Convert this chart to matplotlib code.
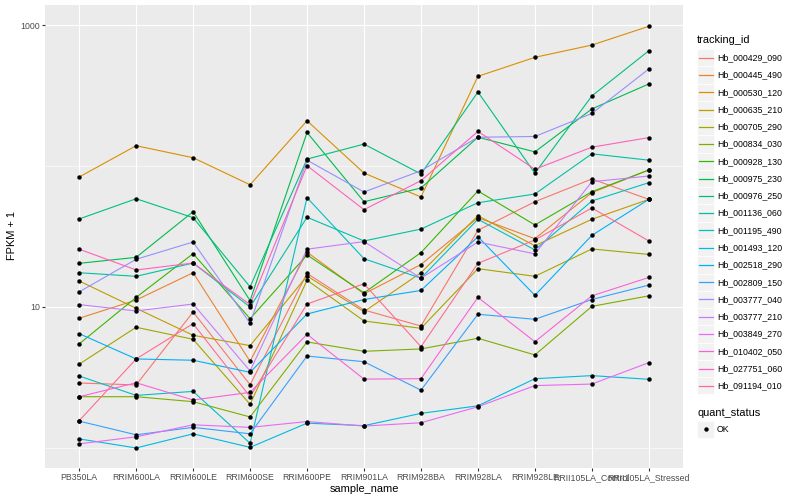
import matplotlib
matplotlib.use('Agg')
import matplotlib.pyplot as plt
from matplotlib.lines import Line2D
from matplotlib.patches import Rectangle
from matplotlib.ticker import FixedLocator, NullFormatter

plt.rcParams['font.family'] = ['Liberation Sans', 'DejaVu Sans']

samples = ['PB350LA', 'RRIM600LA', 'RRIM600LE', 'RRIM600SE', 'RRIM600PE', 'RRIM901LA',
           'RRIM928BA', 'RRIM928LA', 'RRIM928LE', 'RRII105LA_Control', 'RRII105LA_Stressed']

tracking_ids = ['Hb_000429_090', 'Hb_000445_490', 'Hb_000530_120', 'Hb_000635_210',
                'Hb_000705_290', 'Hb_000834_030', 'Hb_000928_130', 'Hb_000975_230',
                'Hb_000976_250', 'Hb_001136_060', 'Hb_001195_490', 'Hb_001493_120',
                'Hb_002518_290', 'Hb_002809_150', 'Hb_003777_040', 'Hb_003777_210',
                'Hb_003849_270', 'Hb_010402_050', 'Hb_027751_060', 'Hb_091194_010']

# FPKM + 1, one list per gene, in sample order
hb_000429_090 = [2.89, 2.80, 9.22, 2.81, 17.3, 9.52, 7.33, 35.0, 55.8, 80.9, 58.0]
hb_000445_490 = [8.32, 11.2, 17.5, 4.12, 24.5, 12.4, 20.0, 43.0, 30.5, 64.7, 93.7]
hb_000530_120 = [83.6, 139.3, 114.5, 73.6, 209.5, 89.1, 60.3, 432.6, 590, 721, 979]
hb_000635_210 = [15.3, 9.79, 6.30, 5.32, 16.6, 9.26, 17.5, 44.4, 27.2, 41.9, 58.0]
hb_000705_290 = [3.93, 7.18, 5.90, 2.04, 15.5, 7.96, 7.06, 18.7, 16.5, 25.8, 23.6]
hb_000834_030 = [2.31, 2.31, 2.13, 1.66, 5.65, 4.85, 5.04, 6.00, 4.57, 10.1, 12.0]
hb_000928_130 = [5.47, 11.7, 23.9, 8.26, 23.4, 12.6, 24.3, 66.5, 38.2, 65.7, 93.7]
hb_000975_230 = [20.4, 22.5, 47.4, 11.1, 173, 55.8, 69.8, 160, 126, 254, 382]
hb_000976_250 = [42.1, 58.6, 43.0, 13.9, 112, 143, 87.8, 335, 88.8, 314, 657]
hb_001136_060 = [17.5, 16.5, 20.5, 10.0, 43.3, 29.4, 35.7, 54.9, 63.3, 122, 110]
hb_001195_490 = [3.24, 2.36, 2.52, 1.08, 59.6, 22.0, 16.0, 41.9, 25.4, 56.5, 76.2]
hb_001493_120 = [1.16, 1.00, 1.26, 1.01, 1.50, 1.44, 1.76, 1.99, 3.10, 3.26, 3.07]
hb_002518_290 = [6.47, 4.28, 4.19, 3.44, 8.92, 11.3, 13.1, 31.5, 12.1, 32.2, 58.0]
hb_002809_150 = [1.55, 1.24, 1.40, 1.26, 4.49, 4.09, 2.57, 8.88, 8.18, 11.3, 14.3]
hb_003777_040 = [12.8, 21.8, 28.9, 7.66, 110, 65.4, 92.6, 160, 162, 236, 488]
hb_003777_210 = [10.4, 9.37, 10.5, 3.52, 25.7, 29.1, 16.0, 28.9, 23.8, 77.4, 84.9]
hb_003849_270 = [1.07, 1.20, 1.46, 1.40, 1.54, 1.43, 1.51, 1.96, 2.77, 2.84, 4.03]
hb_010402_050 = [2.31, 2.90, 2.19, 2.48, 6.40, 3.08, 3.10, 11.7, 5.67, 12.0, 16.2]
hb_027751_060 = [25.7, 18.3, 20.5, 10.4, 100.5, 49.0, 78.7, 176, 94.8, 136, 159]
hb_091194_010 = [1.56, 4.28, 7.62, 2.31, 10.5, 14.6, 5.23, 20.4, 29.9, 50.4, 29.4]

series = [hb_000429_090, hb_000445_490, hb_000530_120, hb_000635_210, hb_000705_290,
          hb_000834_030, hb_000928_130, hb_000975_230, hb_000976_250, hb_001136_060,
          hb_001195_490, hb_001493_120, hb_002518_290, hb_002809_150, hb_003777_040,
          hb_003777_210, hb_003849_270, hb_010402_050, hb_027751_060, hb_091194_010]

# ggplot default hue palette for 20 levels
colors = ['#F8766D', '#EA8331', '#D89000', '#C09B00', '#A3A500', '#7CAE00', '#39B600',
          '#00BB4E', '#00BF7D', '#00C1A3', '#00BFC4', '#00BAE0', '#00B0F6', '#35A2FF',
          '#9590FF', '#C77CFF', '#E76BF3', '#FA62DB', '#FF62BC', '#FF6C91']

W, H = 800, 500
fig = plt.figure(figsize=(8, 5), dpi=100)
ax = fig.add_axes([45 / W, 32 / H, 638 / W, 463 / H])
ax.set_facecolor('#EBEBEB')
for s in ax.spines.values():
    s.set_visible(False)

x = list(range(len(samples)))
for vals, c in zip(series, colors):
    ax.plot(x, vals, color=c, lw=0.8, zorder=2, solid_capstyle='butt')
for vals in series:
    ax.plot(x, vals, 'o', color='black', ms=3.2, mew=0, zorder=3)

ax.set_yscale('log')
ax.set_ylim(0.721, 1387)
ax.set_xlim(-0.6, len(samples) - 0.4)
ax.yaxis.set_major_locator(FixedLocator([10, 1000]))
ax.set_yticklabels(['10', '1000'])
ax.yaxis.set_minor_locator(FixedLocator([1, 100]))
ax.yaxis.set_minor_formatter(NullFormatter())
ax.set_xticks(x)
ax.set_xticklabels(samples)
ax.tick_params(which='major', length=2, width=0.8, color='#333333',
               labelcolor='#4D4D4D', labelsize=6.3, pad=1.6)
ax.tick_params(which='minor', length=0)
ax.grid(which='major', color='white', lw=0.8, zorder=0)
ax.grid(which='minor', axis='y', color='white', lw=0.4, zorder=0)
ax.set_axisbelow(True)

fig.text(364 / W, 1 - 489 / H, 'sample_name', ha='center', va='center', fontsize=7.9)
fig.text(12 / W, 1 - 236 / H, 'FPKM + 1', ha='center', va='center', fontsize=7.9,
         rotation=90)

# legend, laid out by hand in pixel units
def fx(px):
    return px / W

def fy(py):
    return 1 - py / H

fig.text(fx(697), fy(40), 'tracking_id', ha='left', va='center', fontsize=7.9)
step = 17.27
for i, (name, c) in enumerate(zip(tracking_ids, colors)):
    cy = 57.7 + i * step
    fig.add_artist(Rectangle((fx(697), fy(cy + step / 2)), step / W, step / H,
                             facecolor='#F2F2F2', edgecolor='white', lw=0.5,
                             transform=fig.transFigure))
    fig.add_artist(Line2D([fx(699), fx(712.5)], [fy(cy), fy(cy)], color=c, lw=0.9,
                          transform=fig.transFigure))
    fig.text(fx(717), fy(cy), name, ha='left', va='center', fontsize=6.3)

fig.text(fx(697), fy(412.5), 'quant_status', ha='left', va='center', fontsize=7.9)
fig.add_artist(Rectangle((fx(697), fy(429.3 + step / 2)), step / W, step / H,
                         facecolor='#F2F2F2', edgecolor='white', lw=0.5,
                         transform=fig.transFigure))
fig.add_artist(Line2D([fx(705.6)], [fy(429.3)], marker='o', color='black', ms=3.2,
                      mew=0, transform=fig.transFigure))
fig.text(fx(717), fy(429.3), 'OK', ha='left', va='center', fontsize=6.3)

fig.savefig('out.png', dpi=100)
